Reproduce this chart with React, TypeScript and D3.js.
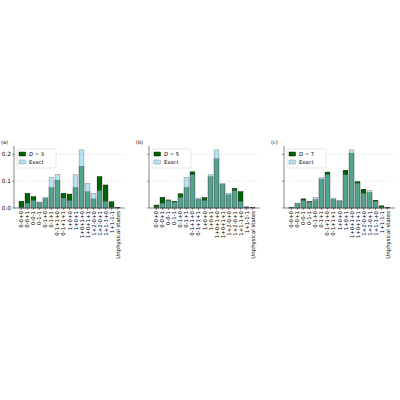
import React from "react";
import * as d3 from "d3";

const categories = [
  "0-0+0", "0-0+1", "0-0-1", "0-1-1", "0-1+0", "0-1+1", "0-1+1+0", "0-1+1+1",
  "1+0+0", "1+0+1", "1+0+1+0", "1+0+1+1", "1+2-0+0", "1+2-0+1", "1+1-1+0", "1+1-1-1",
  "Unphysical states",
];
const exact = [0.003, 0.018, 0.028, 0.022, 0.04, 0.113, 0.125, 0.037, 0.028, 0.124, 0.217, 0.092, 0.055, 0.065, 0.025, 0.003, 0.0];
const d3vals = [0.025, 0.055, 0.042, 0.02, 0.036, 0.076, 0.104, 0.055, 0.052, 0.077, 0.156, 0.061, 0.034, 0.117, 0.086, 0.023, 0.001];
const d5vals = [0.011, 0.04, 0.03, 0.025, 0.053, 0.077, 0.135, 0.033, 0.039, 0.117, 0.184, 0.088, 0.049, 0.073, 0.061, 0.004, 0.001];
const d7vals = [0.003, 0.016, 0.034, 0.024, 0.031, 0.108, 0.134, 0.033, 0.026, 0.141, 0.205, 0.098, 0.07, 0.058, 0.029, 0.008, 0.001];
const panelLetters = ["(a)", "(b)", "(c)"];
const dValues = [3, 5, 7];
const yTicks = [0.0, 0.1, 0.2];

const panelData = [d3vals, d5vals, d7vals];
const FONT = "DejaVu Sans, sans-serif";
const EXACT_FILL = "#87ceeb";

function Panel({ idx }: { idx: number }) {
  const left = 14 + idx * 135;
  const width = 111;
  const top = 146;
  const bottom = 208;
  const n = categories.length;
  const x = d3.scaleLinear().domain([-1.24, n - 1 + 1.24]).range([left, left + width]);
  const y = d3.scaleLinear().domain([0, 0.2315]).range([bottom, top]);
  const bw = x(0.8) - x(0);
  const vals = panelData[idx];
  return (
    <g>
      <text x={left - 13} y={top - 2} fontSize={5} fontFamily={FONT}>{panelLetters[idx]}</text>
      {yTicks.slice(1).map((t) => (
        <line key={t} x1={left} x2={left + width} y1={y(t)} y2={y(t)} stroke="#cccccc" strokeWidth={0.5} strokeDasharray="1.5,1.5" />
      ))}
      {vals.map((v, i) => (
        <rect key={"d" + i} x={x(i) - bw / 2} y={y(v)} width={bw} height={y(0) - y(v)} fill="#006400" stroke="#000" strokeWidth={0.4} />
      ))}
      {exact.map((v, i) => (
        <rect key={"e" + i} x={x(i) - bw / 2} y={y(v)} width={bw} height={y(0) - y(v)} fill={EXACT_FILL} fillOpacity={0.6} stroke="#555" strokeOpacity={0.7} strokeWidth={0.45} />
      ))}
      <line x1={left} x2={left} y1={top} y2={bottom} stroke="#333" strokeWidth={0.6} />
      <line x1={left} x2={left + width} y1={bottom} y2={bottom} stroke="#333" strokeWidth={0.6} />
      {yTicks.map((t) => (
        <g key={t}>
          <line x1={left - 2} x2={left} y1={y(t)} y2={y(t)} stroke="#333" strokeWidth={0.5} />
          {idx === 0 && (
            <text x={left - 3} y={y(t)} fontSize={5.8} fontFamily={FONT} textAnchor="end" dominantBaseline="central">{d3.format(".1f")(t)}</text>
          )}
        </g>
      ))}
      {categories.map((c, i) => (
        <g key={c}>
          <line x1={x(i)} x2={x(i)} y1={bottom} y2={bottom + 2} stroke="#333" strokeWidth={0.5} />
          <text transform={`translate(${x(i)},${bottom + 3}) rotate(-90)`} fontSize={5.4} fontFamily={FONT} textAnchor="end" dominantBaseline="central">{c}</text>
        </g>
      ))}
      <g transform={`translate(${left + 3},${top + 3})`}>
        <rect x={0} y={0} width={39} height={19} rx={1.5} fill="#fff" fillOpacity={0.8} stroke="#ccc" strokeWidth={0.5} />
        <rect x={2} y={3} width={6.5} height={4} fill="#006400" stroke="#000" strokeWidth={0.4} />
        <text x={12} y={5.2} fontSize={5.2} fontFamily={FONT} dominantBaseline="central"><tspan fontStyle="italic">D</tspan> = {dValues[idx]}</text>
        <rect x={2} y={11} width={6.5} height={4} fill={EXACT_FILL} fillOpacity={0.6} stroke="#555" strokeOpacity={0.7} strokeWidth={0.4} />
        <text x={12} y={13.2} fontSize={5.2} fontFamily={FONT} dominantBaseline="central">Exact</text>
      </g>
    </g>
  );
}

export default function App() {
  return (
    <svg width={400} height={400} style={{ position: "absolute", left: 0, top: 0, background: "#fff" }}>
      {[0, 1, 2].map((i) => <Panel key={i} idx={i} />)}
    </svg>
  );
}
